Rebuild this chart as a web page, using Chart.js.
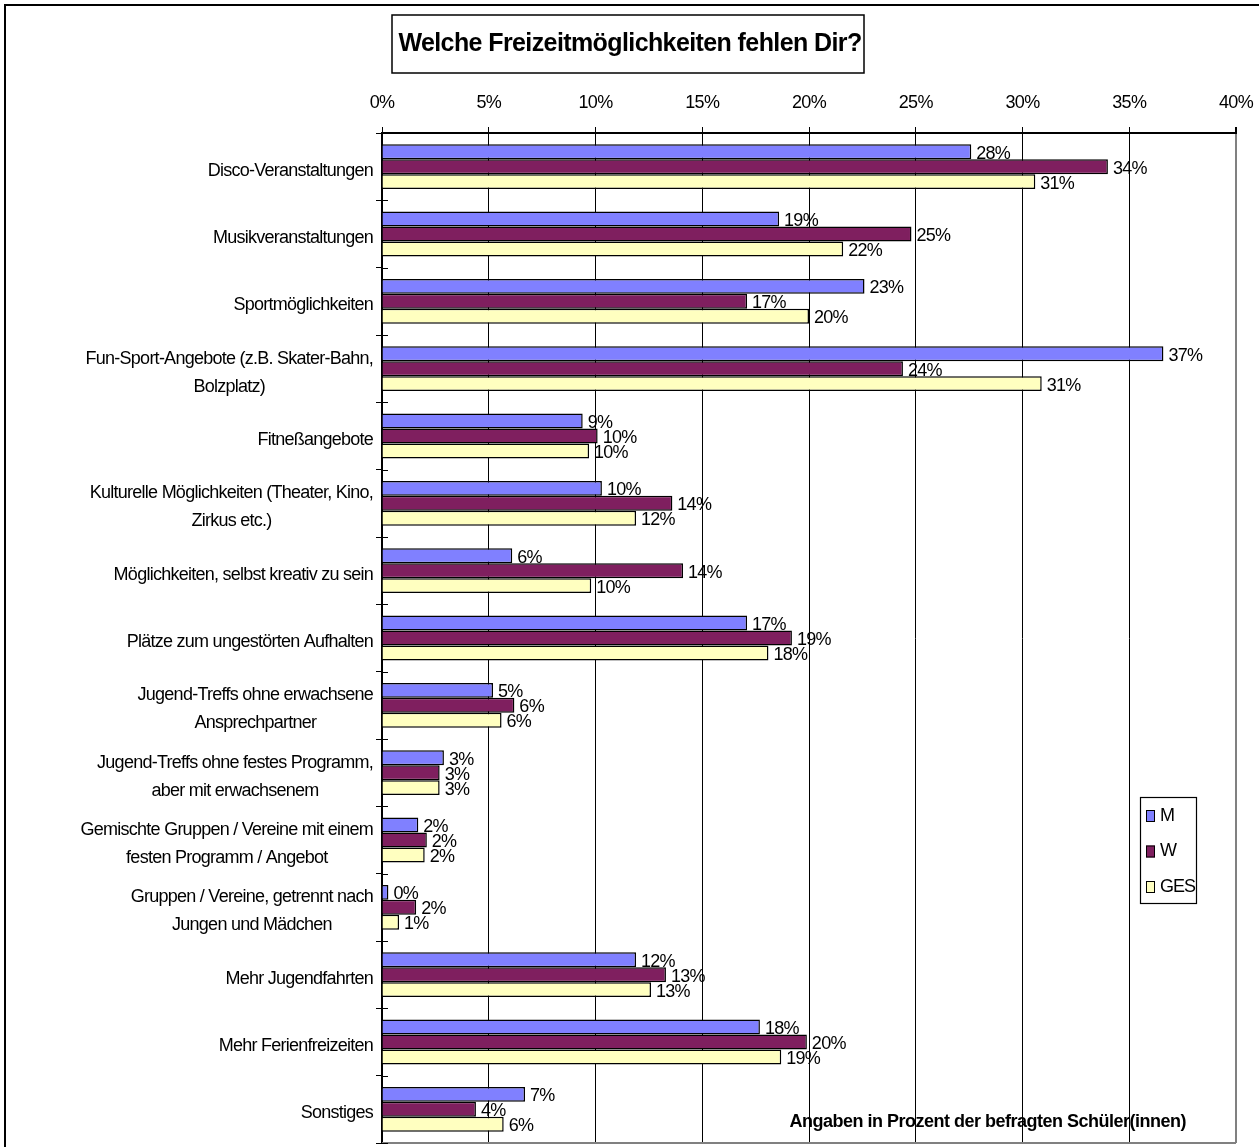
<!DOCTYPE html>
<html><head><meta charset="utf-8">
<script src="https://cdn.jsdelivr.net/npm/chart.js@4/dist/chart.umd.min.js"></script>
<style>html,body{margin:0;padding:0;background:#fff}canvas{display:block}</style>
</head><body>
<canvas id="c" width="1259" height="1147"></canvas>
<script>
// ---- data ----
const categories = [
  ['Disco-Veranstaltungen'],
  ['Musikveranstaltungen'],
  ['Sportmöglichkeiten'],
  ['Fun-Sport-Angebote (z.B. Skater-Bahn,', 'Bolzplatz)'],
  ['Fitneßangebote'],
  ['Kulturelle Möglichkeiten (Theater, Kino,', 'Zirkus etc.)'],
  ['Möglichkeiten, selbst kreativ zu sein'],
  ['Plätze zum ungestörten Aufhalten'],
  ['Jugend-Treffs ohne erwachsene', 'Ansprechpartner'],
  ['Jugend-Treffs ohne festes Programm,', 'aber mit erwachsenem'],
  ['Gemischte Gruppen / Vereine mit einem', 'festen Programm / Angebot'],
  ['Gruppen / Vereine, getrennt nach', 'Jungen und Mädchen'],
  ['Mehr Jugendfahrten'],
  ['Mehr Ferienfreizeiten'],
  ['Sonstiges']
];
const seriesNames = ['M', 'W', 'GES'];
const valuesM   = [27.6, 18.6, 22.6, 36.6,  9.4, 10.3,  6.1, 17.1, 5.2, 2.9, 1.7, 0.3, 11.9, 17.7, 6.7];
const valuesW   = [34.0, 24.8, 17.1, 24.4, 10.1, 13.6, 14.1, 19.2, 6.2, 2.7, 2.1, 1.6, 13.3, 19.9, 4.4];
const valuesGES = [30.6, 21.6, 20.0, 30.9,  9.7, 11.9,  9.8, 18.1, 5.6, 2.7, 2.0, 0.8, 12.6, 18.7, 5.7];
const axisMin = 0, axisMax = 40, axisStep = 5;
const titleText = 'Welche Freizeitmöglichkeiten fehlen Dir?';
const noteText = 'Angaben in Prozent der befragten Schüler(innen)';

// ---- styles ----
const FONT = "'Liberation Sans', Arial, Helvetica, sans-serif";
const colors = ['#8080FF', '#7F1F5F', '#FFFFC0'];
const SPACING = '-0.75px';

const deco = {
  id: 'deco',
  beforeDraw(chart) {
    const ctx = chart.ctx;
    ctx.save();
    ctx.fillStyle = '#fff';
    ctx.fillRect(0, 0, chart.width, chart.height);
    ctx.strokeStyle = '#000';
    ctx.lineWidth = 2;
    ctx.strokeRect(5, 5, chart.width + 40, chart.height + 40);
    // note (drawn under grid lines)
    ctx.font = 'bold 18px ' + FONT;
    ctx.letterSpacing = '-0.5px';
    ctx.fillStyle = '#000';
    ctx.textAlign = 'right';
    ctx.textBaseline = 'middle';
    const ca = chart.chartArea;
    ctx.fillText(noteText, ca.right - 50, ca.bottom - 21);
    ctx.restore();
    chart.ctx.letterSpacing = SPACING;
  },
  afterDatasetsDraw(chart) {
    const ctx = chart.ctx;
    ctx.save();
    ctx.font = '18px ' + FONT;
    ctx.letterSpacing = SPACING;
    ctx.fillStyle = '#000';
    ctx.textAlign = 'left';
    ctx.textBaseline = 'middle';
    chart.data.datasets.forEach((ds, di) => {
      const meta = chart.getDatasetMeta(di);
      meta.data.forEach((bar, i) => {
        ctx.fillText(Math.round(ds.data[i]) + '%', bar.x + 5, bar.y + 2);
      });
    });
    ctx.restore();
  },
  afterDraw(chart) {
    const ctx = chart.ctx;
    const ca = chart.chartArea;
    const ys = chart.scales.y;
    ctx.save();
    // bottom border of plot
    ctx.strokeStyle = '#808080';
    ctx.lineWidth = 2;
    ctx.beginPath();
    ctx.moveTo(ca.left, ca.bottom);
    ctx.lineTo(ca.right, ca.bottom);
    ctx.stroke();
    // small crossing ticks right of y axis
    ctx.strokeStyle = '#000';
    ctx.lineWidth = 1;
    const step = (ca.bottom - ca.top) / categories.length;
    for (let i = 0; i <= categories.length; i++) {
      const y = Math.round(ys.getPixelForValue(0) - step / 2 + i * step) + 0.5;
      ctx.beginPath();
      ctx.moveTo(ca.left, y);
      ctx.lineTo(ca.left + 6, y);
      ctx.stroke();
    }
    // category labels: block right-aligned, lines centred
    ctx.font = '18px ' + FONT;
    ctx.letterSpacing = SPACING;
    ctx.fillStyle = '#000';
    ctx.textAlign = 'center';
    ctx.textBaseline = 'middle';
    categories.forEach((lines, i) => {
      const yc = ys.getPixelForValue(i) + 4;
      const w = Math.max(...lines.map(l => ctx.measureText(l).width));
      const cx = ca.left - 9 - w / 2;
      lines.forEach((l, k) => ctx.fillText(l, cx, yc + (k - (lines.length - 1) / 2) * 28));
    });
    // title box
    ctx.lineWidth = 1.5;
    ctx.fillStyle = '#fff';
    ctx.fillRect(392, 15, 472, 58);
    ctx.strokeRect(392, 15, 472, 58);
    ctx.fillStyle = '#000';
    ctx.font = 'bold 25px ' + FONT;
    ctx.letterSpacing = '-0.6px';
    ctx.fillText(titleText, 630, 44);
    // legend
    ctx.fillStyle = '#fff';
    ctx.fillRect(1140, 797, 57, 107);
    ctx.lineWidth = 1.2;
    ctx.strokeRect(1140.5, 797.5, 56, 106);
    ctx.font = '18px ' + FONT;
    ctx.letterSpacing = '-1px';
    ctx.textAlign = 'left';
    chart.data.datasets.forEach((ds, di) => {
      const y = 816 + di * 35.5;
      ctx.fillStyle = ds.backgroundColor;
      ctx.fillRect(1146, y - 6, 9, 12);
      ctx.strokeStyle = '#000';
      ctx.lineWidth = 1;
      ctx.strokeRect(1146.5, y - 5.5, 8, 11);
      ctx.fillStyle = '#000';
      ctx.fillText(ds.label, 1160, y);
    });
    ctx.restore();
  }
};

new Chart(document.getElementById('c'), {
  type: 'bar',
  data: {
    labels: categories,
    datasets: [
      { label: seriesNames[0], data: valuesM,   backgroundColor: colors[0] },
      { label: seriesNames[1], data: valuesW,   backgroundColor: colors[1] },
      { label: seriesNames[2], data: valuesGES, backgroundColor: colors[2] }
    ]
  },
  options: {
    indexAxis: 'y',
    responsive: false,
    animation: false,
    devicePixelRatio: 1,
    layout: { padding: { top: 80, left: 0, right: 23, bottom: 4 } },
    datasets: {
      bar: { categoryPercentage: 0.667, barPercentage: 1.0, borderColor: '#000', borderWidth: 1.5 }
    },
    plugins: { legend: { display: false }, title: { display: false }, tooltip: { enabled: false } },
    scales: {
      x: {
        position: 'top',
        min: axisMin, max: axisMax,
        afterFit(scale) { scale.height = 53; scale.paddingLeft = 0; scale.paddingRight = 0; },
        ticks: {
          stepSize: axisStep,
          color: '#000',
          font: { family: FONT, size: 18 },
          padding: 13,
          callback: v => v + '%'
        },
        grid: {
          color: ctx => (ctx.tick && ctx.tick.value === axisMax) ? '#808080' : '#000',
          lineWidth: ctx => (ctx.tick && ctx.tick.value === axisMax) ? 2 : 1,
          tickLength: 6,
          tickColor: '#000',
          drawTicks: true
        },
        border: { display: true, color: '#000', width: 2 }
      },
      y: {
        afterFit(scale) { scale.width = 382; scale.paddingTop = 0; scale.paddingBottom = 0; },
        ticks: { display: false },
        grid: { offset: true, drawOnChartArea: false, drawTicks: true, tickLength: 6, color: '#000' },
        border: { display: true, color: '#000', width: 2 }
      }
    }
  },
  plugins: [deco]
});
</script>
</body></html>
